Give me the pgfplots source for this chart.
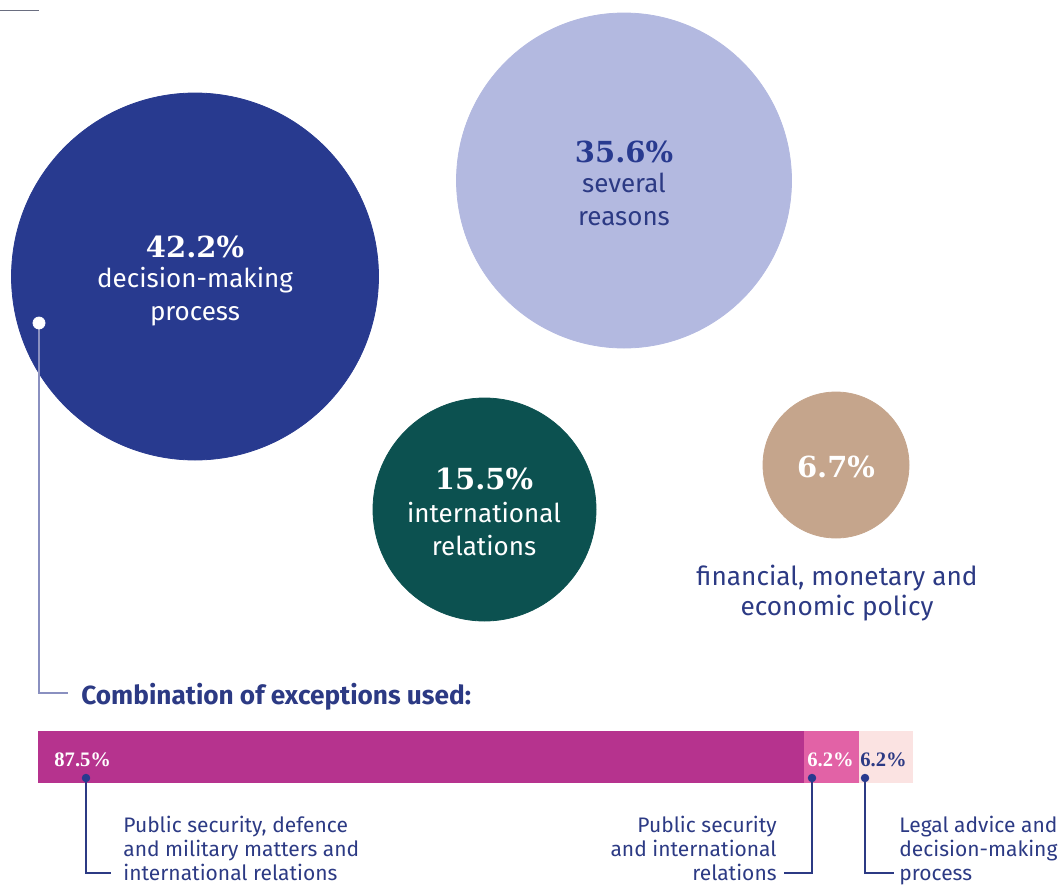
\documentclass[border=0pt]{standalone}
\usepackage{pgfplots}
\pgfplotsset{compat=1.18}
\usepackage{pgfplotstable}
\usepackage{fontspec}
\setmainfont{Fira Sans}
\newfontfamily\numfont{DejaVu Serif}
\newfontfamily\barfont{Liberation Serif}
\definecolor{cDark}{HTML}{283A8F}
\definecolor{cLav}{HTML}{B3B9E0}
\definecolor{cTeal}{HTML}{0C5150}
\definecolor{cTan}{HTML}{C5A58C}
\definecolor{cMag}{HTML}{B6338E}
\definecolor{cPink}{HTML}{E262A6}
\definecolor{cLight}{HTML}{FBE3E2}
\definecolor{cText}{HTML}{2C3A84}
\definecolor{cLine}{HTML}{8A90C0}
\definecolor{cGray}{HTML}{6A6E80}

% circles: centre (px) and radius (px)
\pgfplotstableread{
x y r
195 276.5 183.5
}\circDark
\pgfplotstableread{
x y r
624 180.5 167.5
}\circLav
\pgfplotstableread{
x y r
484.5 509.5 111.5
}\circTeal
\pgfplotstableread{
x y r
836 465 73
}\circTan
% exceptions combination (%)
\pgfplotstableread{
y a b c
1 87.5 6.2 6.2
}\combo

\pgfplotsset{
  bubble/.style={scatter, only marks, mark=*,
    scatter/use mapped color={draw=#1, fill=#1},
    visualization depends on={\thisrow{r} \as \rr},
    scatter/@pre marker code/.append style={/tikz/mark size=\rr*0.5pt}},
  canvas/.style={at={(0,0)}, anchor=south west,
    width=529pt, height=442pt, scale only axis,
    xmin=0, xmax=1058, ymin=0, ymax=884, y dir=reverse,
    hide axis, clip=false},
}
\tikzset{
  pct/.style={anchor=base, inner sep=0, font=\numfont\bfseries\fontsize{14.5}{17}\selectfont},
  lab/.style={anchor=base, inner sep=0, font=\fontsize{13}{15}\selectfont},
  small/.style={inner sep=0, text=cText, font=\fontsize{10.5}{12}\selectfont},
  barlab/.style={anchor=base west, inner sep=0, font=\barfont\bfseries\fontsize{10.3}{12}\selectfont},
}

\begin{document}
\begin{tikzpicture}
% ---- bubbles ----
\begin{axis}[canvas]
\addplot[bubble=cDark] table[x=x,y=y] {\circDark};
\addplot[bubble=cLav] table[x=x,y=y] {\circLav};
\addplot[bubble=cTeal] table[x=x,y=y] {\circTeal};
\addplot[bubble=cTan] table[x=x,y=y] {\circTan};
\end{axis}

% ---- stacked bar ----
\begin{axis}[
  at={(19pt,50.5pt)}, anchor=south west,
  width=437.5pt, height=26pt, scale only axis,
  xbar stacked, bar width=26pt,
  xmin=0, xmax=99.9, ymin=0.5, ymax=1.5,
  hide axis, clip=false,
]
\addplot[fill=cMag, draw=none] table[x=a, y=y] {\combo};
\addplot[fill=cPink, draw=none] table[x=b, y=y] {\combo};
\addplot[fill=cLight, draw=none] table[x=c, y=y] {\combo};
\end{axis}

% ---- connectors and texts on top ----
\begin{axis}[canvas]
% top-left rule
\addplot[cGray, line width=0.7pt] coordinates {(0,10.5) (39,10.5)};
% connector from big circle
\addplot[cLine, line width=0.75pt] coordinates {(39,323) (39,693) (68,693)};
\addplot[only marks, mark=*, mark size=3pt, mark options={fill=white, draw=white}] coordinates {(39,323)};

% connectors below bar
\addplot[cText, line width=0.75pt] coordinates {(86,778) (86,873) (111,873)};
\addplot[cText, line width=0.75pt] coordinates {(812,778) (812,873) (784,873)};
\addplot[cText, line width=0.75pt] coordinates {(865,778) (865,873) (894,873)};
\addplot[only marks, mark=*, mark size=1.9pt, color=cDark] coordinates {(86,778) (812,778) (865,778)};

% circle labels
\node[pct, text=white] at (axis cs:195,257) {42.2\%};
\node[lab, text=white] at (axis cs:195,287) {decision-making};
\node[lab, text=white] at (axis cs:195,320) {process};

\node[pct, text=cDark] at (axis cs:624,162) {35.6\%};
\node[lab, text=cText] at (axis cs:624,192) {several};
\node[lab, text=cText] at (axis cs:624,225) {reasons};

\node[pct, text=white] at (axis cs:484,489) {15.5\%};
\node[lab, text=white] at (axis cs:484,522) {international};
\node[lab, text=white] at (axis cs:484,555) {relations};

\node[pct, text=white] at (axis cs:836,477) {6.7\%};
\node[lab, text=cText, font=\fontsize{13.1}{15}\selectfont] at (axis cs:837,585) {financial, monetary and};
\node[lab, text=cText, font=\fontsize{13.1}{15}\selectfont] at (axis cs:837,615) {economic policy};

% heading
\node[anchor=base west, text=cText, font=\bfseries\fontsize{13.1}{15}\selectfont, inner sep=0] at (axis cs:81,704) {Combination of exceptions used:};

% bar value labels
\node[barlab, text=white] at (axis cs:54,766) {87.5\%};
\node[barlab, text=white] at (axis cs:807,766) {6.2\%};
\node[barlab, text=cText] at (axis cs:860,766) {6.2\%};

% bottom labels
\node[small, anchor=base west] at (axis cs:123,832) {Public security, defence};
\node[small, anchor=base west] at (axis cs:123,856) {and military matters and};
\node[small, anchor=base west] at (axis cs:123,880) {international relations};

\node[small, anchor=base east] at (axis cs:777,832) {Public security};
\node[small, anchor=base east] at (axis cs:777,856) {and international};
\node[small, anchor=base east] at (axis cs:777,880) {relations};

\node[small, anchor=base west] at (axis cs:899,832) {Legal advice and};
\node[small, anchor=base west] at (axis cs:899,856) {decision-making};
\node[small, anchor=base west] at (axis cs:899,880) {process};
\end{axis}
\pgfresetboundingbox
\useasboundingbox (0,0) rectangle (529pt,442pt);
\end{tikzpicture}
\end{document}
